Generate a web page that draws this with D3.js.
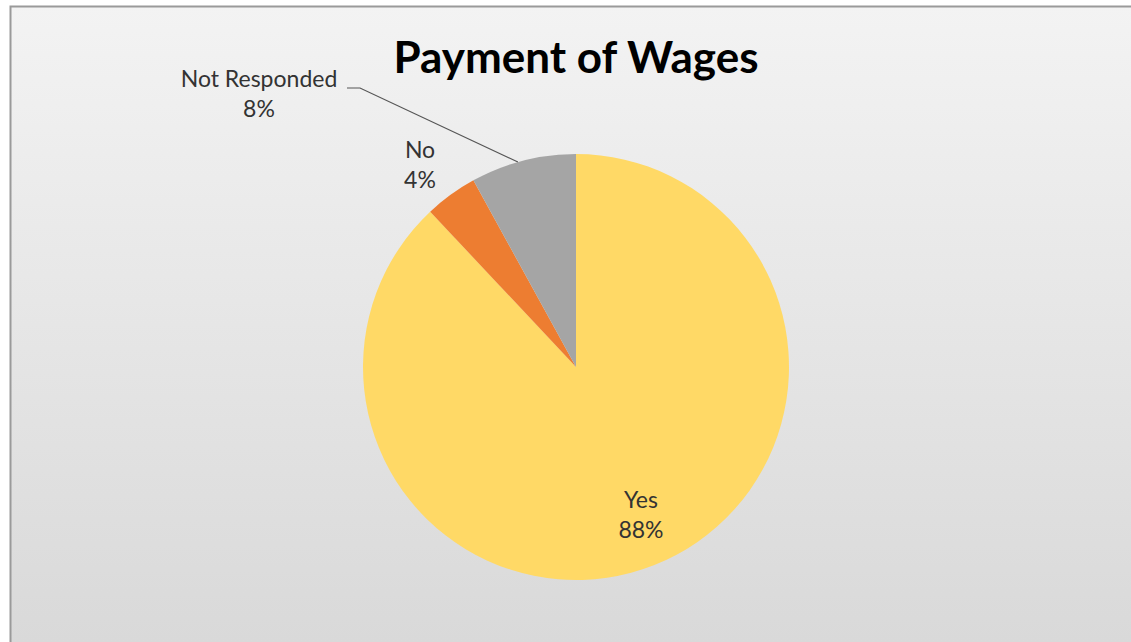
<!DOCTYPE html>
<html>
<head>
<meta charset="utf-8">
<script src="https://cdn.jsdelivr.net/npm/d3@7"></script>
<style>
  html, body { margin: 0; padding: 0; background: #ffffff; }
  svg { display: block; }
</style>
</head>
<body>
<svg id="chart" width="1131" height="642"></svg>
<script>
// Survey answers on payment of wages
const categories = ["Yes", "No", "Not Responded"];
const shares = [88, 4, 8];
const sliceColors = ["#FFD966", "#ED7D31", "#A5A5A5"];
const chartTitle = "Payment of Wages";

const width = 1131, height = 642;
const svg = d3.select("#chart");

// Chart area background with soft vertical gradient
const defs = svg.append("defs");
const grad = defs.append("linearGradient")
  .attr("id", "bg").attr("x1", 0).attr("y1", 0).attr("x2", 0).attr("y2", 1);
grad.append("stop").attr("offset", "0%").attr("stop-color", "#f3f3f3");
grad.append("stop").attr("offset", "100%").attr("stop-color", "#d9d9d9");

svg.append("rect").attr("x", 0).attr("y", 0).attr("width", width).attr("height", height)
  .attr("fill", "#ffffff");
svg.append("rect")
  .attr("x", 10).attr("y", 6).attr("width", width - 10).attr("height", height - 6)
  .attr("fill", "url(#bg)");
// frame on the top and left edges
svg.append("path")
  .attr("d", `M10.5,${height} L10.5,6.5 L${width},6.5`)
  .attr("fill", "none").attr("stroke", "#9a9a9a").attr("stroke-width", 2);

// Title
svg.append("text")
  .attr("x", 576).attr("y", 73)
  .attr("text-anchor", "middle")
  .attr("font-family", "Lato, 'Open Sans', sans-serif")
  .attr("font-weight", "bold")
  .attr("font-size", 44)
  .attr("fill", "#000")
  .text(chartTitle);

// Pie
const cx = 576, cy = 367, radius = 213;
const data = categories.map((c, i) => ({ name: c, value: shares[i], color: sliceColors[i] }));
const pie = d3.pie().value(d => d.value).sort(null);
const arcs = pie(data);
const arc = d3.arc().innerRadius(0).outerRadius(radius);

const g = svg.append("g").attr("transform", `translate(${cx},${cy})`);
g.selectAll("path.slice").data(arcs).join("path")
  .attr("class", "slice")
  .attr("d", arc)
  .attr("fill", d => d.data.color);

// Data labels: category name and percentage
const labelFont = "Lato, 'Open Sans', sans-serif";
const labelPos = {
  "Yes": [641, 508],
  "No": [420, 158],
  "Not Responded": [259, 87]
};
arcs.forEach(a => {
  const [lx, ly] = labelPos[a.data.name];
  const t = svg.append("text")
    .attr("text-anchor", "middle")
    .attr("font-family", labelFont)
    .attr("font-size", 23)
    .attr("fill", "#333333");
  t.append("tspan").attr("x", lx).attr("y", ly).text(a.data.name);
  t.append("tspan").attr("x", lx).attr("y", ly + 30).text(a.data.value + "%");
});

// Leader line for the small grey slice
const nr = arcs[2];
const mid = (nr.startAngle + nr.endAngle) / 2 - 0.025;
const edge = [cx + Math.sin(mid) * radius, cy - Math.cos(mid) * radius];
svg.append("polyline")
  .attr("points", `347,88 360,88 ${edge[0]},${edge[1]}`)
  .attr("fill", "none")
  .attr("stroke", "#555555")
  .attr("stroke-width", 1.2);
</script>
</body>
</html>
